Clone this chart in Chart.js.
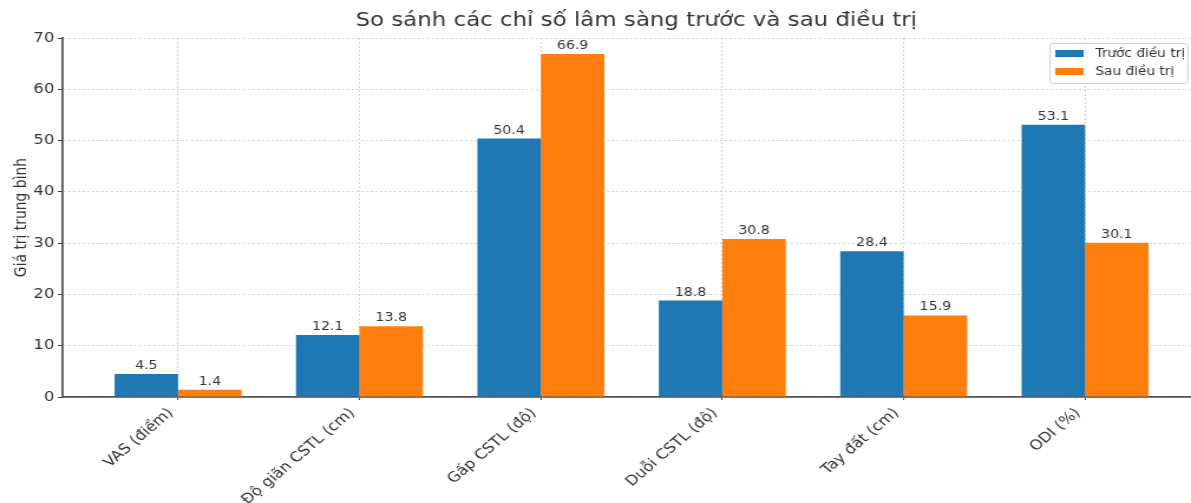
<!DOCTYPE html>
<html><head><meta charset="utf-8">
<script src="https://cdn.jsdelivr.net/npm/chart.js@4.4.1/dist/chart.umd.min.js"></script>
<style>
html,body{margin:0;padding:0;background:#fff;overflow:hidden}
#wrap{width:1191px;height:503px}
#c{width:1191px !important;height:503px !important;display:block}
</style>
</head><body><div id="wrap"><canvas id="c" width="1009" height="503" style="width:1191px;height:503px"></canvas></div>
<script>
const categories = ["VAS (điểm)", "Độ giãn CSTL (cm)", "Gấp CSTL (độ)", "Duỗi CSTL (độ)", "Tay đất (cm)", "ODI (%)"];
const seriesNames = ["Trước điều trị", "Sau điều trị"];
const before = [4.5, 12.1, 50.4, 18.8, 28.4, 53.1];
const after = [1.4, 13.8, 66.9, 30.8, 15.9, 30.1];
const yTicks = [0, 10, 20, 30, 40, 50, 60, 70];
const chartTitle = "So sánh các chỉ số lâm sàng trước và sau điều trị";
const yTitle = "Giá trị trung bình";

const FONT = "'DejaVu Sans', sans-serif";
const BLUE = "#1f77b4", ORANGE = "#ff7f0e";
const TXT = "#333";

const toXY = arr => arr.map((v, i) => ({x: i, y: v}));

const overlay = {
  id: 'overlay',
  afterDatasetsDraw(chart) {
    const ctx = chart.ctx;
    ctx.save();
    // value labels above bars
    ctx.font = "12px " + FONT;
    ctx.fillStyle = TXT;
    ctx.textAlign = "center";
    ctx.textBaseline = "alphabetic";
    chart.data.datasets.forEach((ds, di) => {
      const meta = chart.getDatasetMeta(di);
      meta.data.forEach((bar, i) => {
        ctx.fillText(ds.data[i].y.toFixed(1), bar.x, bar.y - 5);
      });
    });
    // title
    ctx.font = "19.4px " + FONT;
    ctx.fillStyle = TXT;
    ctx.textBaseline = "middle";
    ctx.fillText(chartTitle, 539, 21);
    // legend
    const lx = 889, ly = 43, lw = 117, lh = 40;
    ctx.fillStyle = "rgba(255,255,255,0.85)";
    ctx.strokeStyle = "#d0d0d0";
    ctx.lineWidth = 1;
    ctx.beginPath();
    ctx.roundRect(lx + 0.5, ly + 0.5, lw, lh, 3);
    ctx.fill(); ctx.stroke();
    ctx.font = "11.6px " + FONT;
    ctx.textAlign = "left";
    chart.data.datasets.forEach((ds, di) => {
      const yy = ly + 10.5 + di * 18;
      ctx.fillStyle = ds.backgroundColor;
      ctx.fillRect(lx + 5, yy - 3.5, 24, 7);
      ctx.fillStyle = TXT;
      ctx.fillText(ds.label, lx + 39, yy);
    });
    ctx.restore();
  }
};

new Chart(document.getElementById('c'), {
  type: 'bar',
  data: {
    datasets: [
      {label: seriesNames[0], data: toXY(before), backgroundColor: BLUE, borderWidth: 0},
      {label: seriesNames[1], data: toXY(after), backgroundColor: ORANGE, borderWidth: 0}
    ]
  },
  options: {
    responsive: false,
    animation: false,
    events: [],
    devicePixelRatio: 1,
    layout: {padding: {top: 38, right: 0, left: 0, bottom: 0}},
    datasets: {bar: {categoryPercentage: 0.7, barPercentage: 1.0}},
    plugins: {legend: {display: false}, title: {display: false}, tooltip: {enabled: false}},
    scales: {
      x: {
        type: 'linear',
        min: -0.64,
        max: 5.584,
        offset: false,
        afterFit(s) { s.height = 106; },
        afterBuildTicks(s) { s.ticks = categories.map((c, i) => ({value: i})); },
        ticks: {
          callback: (v) => categories[v],
          font: {family: FONT, size: 13.9},
          color: TXT,
          maxRotation: 45, minRotation: 45,
          autoSkip: false,
          padding: 5,
          labelOffset: -6
        },
        grid: {offset: false, color: "#d4d4d4", tickColor: "#444", tickLength: 3, tickBorderDash: []},
        border: {display: true, color: "#555", width: 1.8, dash: [2, 2]}
      },
      y: {
        min: 0, max: 70,
        afterFit(s) { s.width = 52.5; },
        afterBuildTicks(s) { s.ticks = yTicks.map(v => ({value: v})); },
        ticks: {font: {family: FONT, size: 13.9}, color: TXT, padding: 3},
        title: {display: true, text: yTitle, font: {family: FONT, size: 13.9}, color: TXT, padding: {top: 10, bottom: 0}},
        grid: {color: "#d4d4d4", tickColor: "#444", tickLength: 3.5, tickBorderDash: []},
        border: {display: true, color: "#555", width: 1.8, dash: [2, 2]}
      }
    }
  },
  plugins: [overlay]
});
</script></body></html>
